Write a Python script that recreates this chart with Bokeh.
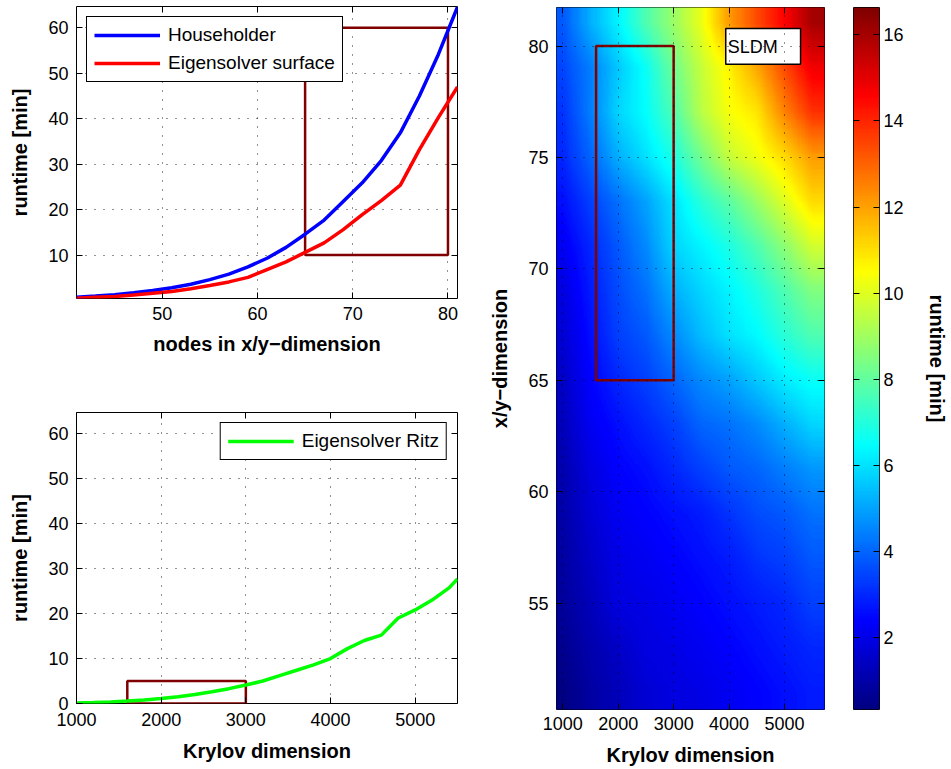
import numpy as np
from bokeh.plotting import figure
from bokeh.models import (Range1d, LinearAxis, FixedTicker, Legend, LegendItem,
                          LinearColorMapper, BoxAnnotation, Label)
from bokeh.layouts import row, column
from bokeh.embed import file_html
from bokeh.resources import INLINE

# ---------------- data ----------------
nodes = [41, 43, 45, 47, 49, 51, 53, 55, 57, 59, 61, 63, 65, 67, 69, 71, 73, 75, 77, 79, 81]
householder = [0.75, 1.0, 1.3, 1.7, 2.2, 2.8, 3.6, 4.6, 5.8, 7.4, 9.3, 11.7, 14.6, 17.7, 21.8,
               25.9, 30.8, 36.9, 45.0, 54.2, 64.6]
eig_surface = [0.5, 0.7, 0.9, 1.2, 1.6, 2.0, 2.6, 3.3, 4.1, 5.1, 6.8, 8.5, 10.6, 12.7, 15.6,
               18.9, 22.0, 25.4, 33.2, 40.3, 47.0]

krylov = [1000, 1200, 1400, 1600, 1800, 2000, 2200, 2400, 2600, 2800, 3000, 3200, 3400, 3600,
          3800, 4000, 4200, 4400, 4600, 4800, 5000, 5200, 5400, 5500]
eig_ritz = [0.1, 0.2, 0.35, 0.55, 0.8, 1.1, 1.5, 2.0, 2.6, 3.3, 4.1, 5.0, 6.2, 7.4, 8.6, 10.0,
            12.2, 14.0, 15.2, 19.0, 20.8, 23.0, 25.7, 27.7]

hm_krylov = [1000, 1500, 2000, 2500, 3000, 3500, 4000, 4500, 5000, 5500]
hm_nodes = [81, 79, 77, 75, 73, 71, 69, 67, 65, 63, 61, 59, 57, 55, 53, 51]
sldm_runtime = [
    [3.8, 5.2, 6.3, 7.7, 8.9, 10.2, 12.1, 13.4, 14.6, 16.0],   # 81
    [3.5, 4.4, 5.6, 6.6, 8.2, 9.6, 10.7, 11.9, 13.4, 14.8],    # 79
    [3.2, 4.4, 5.8, 6.5, 7.7, 9.4, 10.4, 10.9, 12.5, 13.8],    # 77
    [3.0, 4.0, 5.2, 6.0, 6.9, 8.3, 9.6, 10.3, 11.1, 12.1],     # 75
    [2.6, 3.4, 4.2, 5.0, 6.0, 7.1, 7.9, 8.9, 10.0, 11.1],      # 73
    [2.2, 3.0, 3.8, 4.6, 5.8, 6.3, 6.9, 7.7, 8.7, 9.8],        # 71
    [1.9, 2.8, 3.6, 4.2, 5.2, 5.8, 6.3, 6.9, 7.7, 8.5],        # 69
    [1.7, 2.6, 3.4, 3.8, 4.6, 5.4, 6.0, 6.4, 7.1, 7.7],        # 67
    [1.5, 2.4, 3.0, 3.4, 4.0, 4.6, 5.0, 5.6, 6.2, 6.6],        # 65
    [1.3, 2.2, 2.6, 3.0, 3.4, 4.0, 4.2, 4.6, 5.2, 5.8],        # 63
    [1.1, 1.9, 2.4, 2.6, 3.0, 3.4, 3.8, 4.0, 4.4, 4.8],        # 61
    [1.0, 1.7, 2.2, 2.4, 2.6, 2.8, 3.2, 3.6, 3.8, 4.2],        # 59
    [0.9, 1.5, 2.0, 2.2, 2.4, 2.6, 2.8, 3.2, 3.4, 3.8],        # 57
    [0.8, 1.3, 1.9, 2.0, 2.2, 2.4, 2.6, 2.8, 3.0, 3.4],        # 55
    [0.6, 1.1, 1.5, 1.9, 2.0, 2.2, 2.4, 2.6, 2.8, 3.0],        # 53
    [0.4, 0.9, 1.3, 1.7, 1.9, 2.0, 2.2, 2.4, 2.6, 2.8],        # 51
]

# highlighted regions
box_nodes = [65, 80]
box_runtime = [10, 60]
box_krylov = [1600, 3000]
box_ritz_runtime = [0, 5]

top_xticks = [50, 60, 70, 80]
runtime_ticks = [0, 10, 20, 30, 40, 50, 60]
krylov_ticks = [1000, 2000, 3000, 4000, 5000]
node_ticks = [55, 60, 65, 70, 75, 80]
cbar_ticks = [2, 4, 6, 8, 10, 12, 14, 16]
cbar_low, cbar_high = 0.34, 16.63

# ---------------- styles ----------------
FONT = "Liberation Sans"
TICK_FS = "18px"
LABEL_FS = "20px"
DARKRED = "#800000"


def jet(n=256):
    cols = []
    for i in range(n):
        x = i / (n - 1)
        r = min(max(1.5 - abs(4 * x - 3), 0), 1)
        g = min(max(1.5 - abs(4 * x - 2), 0), 1)
        b = min(max(1.5 - abs(4 * x - 1), 0), 1)
        cols.append("#%02x%02x%02x" % (round(r * 255), round(g * 255), round(b * 255)))
    return cols


def style_axis(ax, ticks, label=None, standoff=8, label_standoff=10):
    ax.ticker = FixedTicker(ticks=ticks)
    ax.major_tick_in = 6
    ax.major_tick_out = 0
    ax.minor_tick_line_color = None
    ax.axis_line_color = None
    ax.major_tick_line_color = "black"
    ax.major_label_text_font = FONT
    ax.major_label_text_font_size = TICK_FS
    ax.major_label_text_color = "black"
    ax.major_label_standoff = standoff
    if label is not None:
        ax.axis_label = label
        ax.axis_label_text_font = FONT
        ax.axis_label_text_font_size = LABEL_FS
        ax.axis_label_text_font_style = "bold"
        ax.axis_label_text_color = "black"
        ax.axis_label_standoff = label_standoff


def mirror(p, where, ticks):
    # Matlab-style mirrored tick marks (no labels) on the opposite side of the box
    ax = LinearAxis(ticker=FixedTicker(ticks=ticks))
    ax.major_tick_in = 6
    ax.major_tick_out = 0
    ax.minor_tick_line_color = None
    ax.axis_line_color = None
    ax.major_label_text_color = None
    ax.major_label_standoff = 0
    p.add_layout(ax, where)


def base_style(p, xt, yt):
    p.outline_line_color = "black"
    p.outline_line_width = 1
    p.outline_line_alpha = 1
    p.background_fill_color = "white"
    p.border_fill_color = "white"
    p.xgrid.ticker = FixedTicker(ticks=xt)
    p.ygrid.ticker = FixedTicker(ticks=yt)
    for g in (p.xgrid, p.ygrid):
        g.grid_line_color = "black"
        g.grid_line_dash = "1 8"
        g.grid_line_width = 1
        g.grid_line_alpha = 0.85


def style_legend(leg):
    leg.margin = 10
    leg.padding = 7
    leg.spacing = 6
    leg.glyph_width = 66
    leg.glyph_height = 18
    leg.label_height = 18
    leg.label_standoff = 8
    leg.label_text_font = FONT
    leg.label_text_font_size = "19px"
    leg.label_text_color = "black"
    leg.border_line_color = "black"
    leg.border_line_width = 1.5
    leg.border_line_alpha = 1
    leg.background_fill_color = "white"
    leg.background_fill_alpha = 1


# ---------------- top-left ----------------
p1 = figure(width=478, height=360, output_backend="svg", toolbar_location=None,
            x_range=Range1d(41, 81), y_range=Range1d(0.45, 64.7),
            min_border_left=76, min_border_right=21, min_border_top=6, min_border_bottom=62)
base_style(p1, top_xticks, runtime_ticks)
style_axis(p1.xaxis[0], top_xticks, "nodes in x/y\u2212dimension", standoff=8, label_standoff=10)
style_axis(p1.yaxis[0], runtime_ticks, "runtime [min]", standoff=8, label_standoff=14)
mirror(p1, "above", top_xticks)
mirror(p1, "right", runtime_ticks)
p1.quad(left=[box_nodes[0]], right=[box_nodes[1]], bottom=[box_runtime[0]], top=[box_runtime[1]],
        fill_color=None, line_color=DARKRED, line_width=2.5)
r_h = p1.line(nodes, householder, line_color="#0000ff", line_width=3.5)
r_e = p1.line(nodes, eig_surface, line_color="#ff0000", line_width=3.5)
leg1 = Legend(items=[LegendItem(label="Householder", renderers=[r_h]),
                     LegendItem(label="Eigensolver surface", renderers=[r_e])],
              location="top_left")
style_legend(leg1)
p1.add_layout(leg1)

# ---------------- bottom-left ----------------
p2 = figure(width=478, height=408, output_backend="svg", toolbar_location=None,
            x_range=Range1d(1000, 5500), y_range=Range1d(0, 64.7),
            min_border_left=76, min_border_right=21, min_border_top=52, min_border_bottom=65)
base_style(p2, krylov_ticks, runtime_ticks)
style_axis(p2.xaxis[0], krylov_ticks, "Krylov dimension", standoff=9, label_standoff=11)
style_axis(p2.yaxis[0], runtime_ticks, "runtime [min]", standoff=8, label_standoff=14)
mirror(p2, "above", krylov_ticks)
mirror(p2, "right", runtime_ticks)
p2.quad(left=[box_krylov[0]], right=[box_krylov[1]], bottom=[box_ritz_runtime[0]],
        top=[box_ritz_runtime[1]], fill_color=None, line_color=DARKRED, line_width=2.5)
r_r = p2.line(krylov, eig_ritz, line_color="#00ff00", line_width=3.5)
leg2 = Legend(items=[LegendItem(label="Eigensolver Ritz", renderers=[r_r])], location="top_right")
style_legend(leg2)
p2.add_layout(leg2)

# ---------------- heatmap ----------------
mapper = LinearColorMapper(palette=jet(256), low=cbar_low, high=cbar_high)
p3 = figure(width=348, height=768, output_backend="svg", toolbar_location=None,
            x_range=Range1d(886, 5722), y_range=Range1d(50.22, 81.73),
            min_border_left=78, min_border_right=2, min_border_top=7, min_border_bottom=57)
base_style(p3, krylov_ticks, node_ticks)
p3.xgrid.level = "overlay"
p3.ygrid.level = "overlay"
style_axis(p3.xaxis[0], krylov_ticks, "Krylov dimension", standoff=7, label_standoff=11)
style_axis(p3.yaxis[0], node_ticks, "x/y\u2212dimension", standoff=8, label_standoff=14)
mirror(p3, "above", krylov_ticks)
mirror(p3, "right", node_ticks)

# smooth (Matlab "shading interp"-like) rendering of the read grid
grid = np.array(sldm_runtime, dtype=float)[::-1]          # bottom row first
kc = np.array(hm_krylov, dtype=float)
nc = np.array(hm_nodes, dtype=float)[::-1]
dk = kc[1] - kc[0]
dn = nc[1] - nc[0]
x0, x1 = kc.min() - dk / 2, kc.max() + dk / 2
y0, y1 = nc.min() - dn / 2, nc.max() + dn / 2
NX, NY = 250, 400
fx = x0 + (np.arange(NX) + 0.5) * (x1 - x0) / NX
fy = y0 + (np.arange(NY) + 0.5) * (y1 - y0) / NY
tmp = np.array([np.interp(fx, kc, r) for r in grid])
smooth = np.array([np.interp(fy, nc, tmp[:, j]) for j in range(NX)]).T
p3.image(image=[smooth], x=x0, y=y0, dw=x1 - x0, dh=y1 - y0, color_mapper=mapper)
p3.quad(left=[box_krylov[0]], right=[box_krylov[1]], bottom=[box_nodes[0]], top=[box_nodes[1]],
        fill_color=None, line_color=DARKRED, line_width=2.5)
p3.add_layout(BoxAnnotation(left=3940, right=5290, bottom=79.18, top=80.79,
                            fill_color="white", fill_alpha=1, line_color="black",
                            line_alpha=1, line_width=1.5))
p3.add_layout(Label(x=3975, y=79.95, text="SLDM", text_baseline="middle",
                    text_font=FONT, text_font_size="18px", text_color="black"))

# ---------------- colorbar ----------------
p4 = figure(width=124, height=768, output_backend="svg", toolbar_location=None,
            x_range=Range1d(0, 1), y_range=Range1d(cbar_low, cbar_high),
            x_axis_location=None, y_axis_location="right",
            min_border_left=27, min_border_right=56, min_border_top=7, min_border_bottom=57)
p4.outline_line_color = "black"
p4.outline_line_alpha = 1
p4.xgrid.visible = False
p4.ygrid.visible = False
ramp = np.linspace(cbar_low, cbar_high, 256).reshape(256, 1)
p4.image(image=[ramp], x=0, y=cbar_low, dw=1, dh=cbar_high - cbar_low, color_mapper=mapper)
style_axis(p4.yaxis[0], cbar_ticks, "runtime [min]", standoff=4, label_standoff=19)
mirror(p4, "left", cbar_ticks)

layout = row(column(p1, p2), p3, p4)
open("out.html", "w").write(file_html(layout, INLINE))
